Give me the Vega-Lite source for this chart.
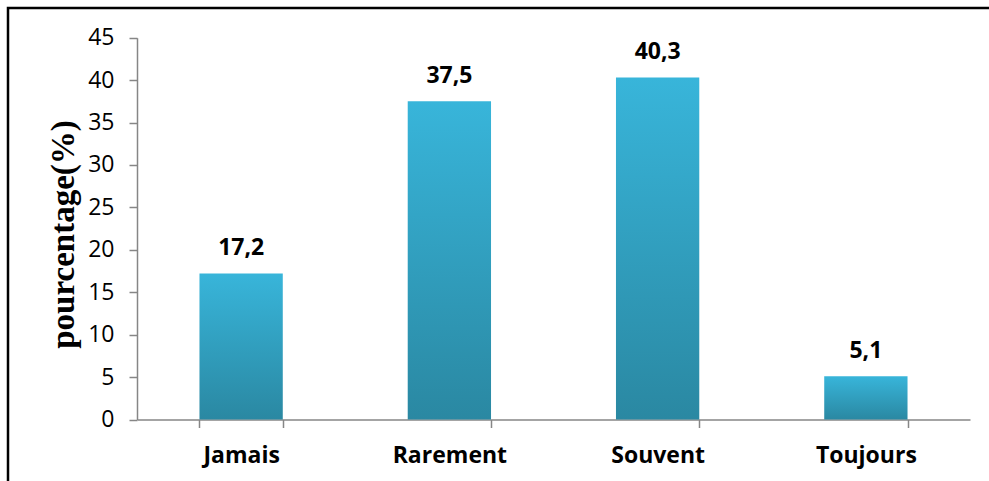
{
  "$schema": "https://vega.github.io/schema/vega-lite/v6.json",
  "width": 981,
  "height": 473,
  "padding": {"left": 8, "top": 8, "right": 0, "bottom": 0},
  "autosize": {"type": "none"},
  "background": "white",
  "data": {
    "values": [
      {"frequence": "Jamais", "pct": 17.2},
      {"frequence": "Rarement", "pct": 37.5},
      {"frequence": "Souvent", "pct": 40.3},
      {"frequence": "Toujours", "pct": 5.1}
    ]
  },
  "encoding": {
    "x": {
      "field": "frequence",
      "type": "nominal",
      "sort": null,
      "scale": {"range": [129, 962], "paddingInner": 0.6, "paddingOuter": 0.3},
      "axis": {
        "title": null,
        "orient": "bottom",
        "offset": -61.5,
        "labelAngle": 0,
        "tickBand": "extent",
        "tickSize": 8,
        "labelPadding": 35,
        "labelBaseline": "alphabetic",
        "labelFont": "Open Sans",
        "labelFontWeight": "bold",
        "labelFontSize": 23,
        "labelColor": "#000000"
      }
    },
    "y": {
      "field": "pct",
      "type": "quantitative",
      "scale": {"domain": [0, 45], "range": [411.5, 29.7], "nice": false},
      "axis": {
        "title": "pourcentage(%)",
        "orient": "left",
        "offset": -129,
        "values": [0, 5, 10, 15, 20, 25, 30, 35, 40, 45],
        "format": "d",
        "grid": false,
        "tickSize": 8,
        "labelPadding": 15,
        "labelFont": "Open Sans",
        "labelFontSize": 23,
        "labelColor": "#000000",
        "titleFont": "Liberation Serif",
        "titleFontWeight": "bold",
        "titleFontSize": 33,
        "titleColor": "#000000",
        "titlePadding": 7,
        "titleY": 226
      }
    }
  },
  "layer": [
    {
      "mark": {
        "type": "bar",
        "color": {
          "gradient": "linear",
          "x1": 0, "y1": 0, "x2": 0, "y2": 1,
          "stops": [
            {"offset": 0, "color": "#38b5da"},
            {"offset": 1, "color": "#2a88a2"}
          ]
        }
      }
    },
    {
      "mark": {
        "type": "text",
        "baseline": "alphabetic",
        "dy": -18.6,
        "font": "Open Sans",
        "fontWeight": "bold",
        "fontSize": 23,
        "color": "#000000"
      },
      "encoding": {
        "text": {"field": "pct", "type": "quantitative", "format": ".1f"}
      }
    }
  ],
  "config": {
    "locale": {
      "number": {"decimal": ",", "thousands": " ", "grouping": [3], "currency": ["", " €"]}
    },
    "view": {
      "stroke": "#000000",
      "strokeWidth": 2.5,
      "strokeDash": [981, 1454, 473, 100]
    },
    "axis": {
      "domainColor": "#868686",
      "domainWidth": 1.5,
      "tickColor": "#868686",
      "tickWidth": 1.5
    }
  }
}
